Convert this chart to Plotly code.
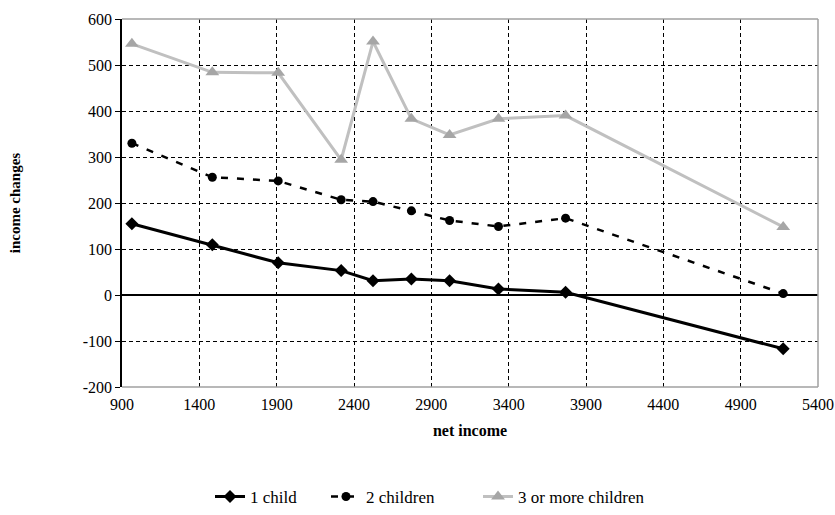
import plotly.graph_objects as go

net_income = [964, 1484, 1910, 2317, 2523, 2771, 3018, 3334, 3768, 5175]
one_child = [155, 109, 70, 53, 31, 35, 31, 13, 6, -117]
two_children = [330, 256, 248, 207, 203, 183, 162, 149, 167, 3]
three_plus = [546, 484, 483, 294, 551, 383, 348, 383, 390, 148]

x_ticks = [900, 1400, 1900, 2400, 2900, 3400, 3900, 4400, 4900, 5400]
y_ticks = [-200, -100, 0, 100, 200, 300, 400, 500, 600]
y_tick_text = ["-200", "-100", "0", "100", "200", "300", "400", "500", "600"]

FONT = "Liberation Serif"

fig = go.Figure()
fig.add_trace(go.Scatter(
    x=net_income, y=one_child, name="1 child", mode="lines+markers",
    line=dict(color="black", width=3), legend="legend",
    marker=dict(symbol="diamond", size=10, color="black")))
fig.add_trace(go.Scatter(
    x=net_income, y=two_children, name="2 children", mode="lines+markers",
    line=dict(color="black", width=2.5, dash="7px,9px"), legend="legend2",
    marker=dict(symbol="circle", size=9, color="black")))
fig.add_trace(go.Scatter(
    x=net_income, y=three_plus, name="3 or more children", mode="lines+markers",
    line=dict(color="#c0c0c0", width=3), legend="legend3",
    marker=dict(symbol="triangle-up", size=12, color="#a6a6a6")))

def leg(xpx):
    return dict(orientation="h", x=xpx / 835, xanchor="left", xref="container",
                y=0.035, yanchor="middle", yref="container",
                font=dict(family=FONT, size=17), bgcolor="rgba(0,0,0,0)")

fig.update_layout(
    width=835, height=515,
    margin=dict(l=122, r=17, t=19, b=128, autoexpand=False),
    plot_bgcolor="white", paper_bgcolor="white",
    font=dict(family=FONT, size=16, color="black"),
    showlegend=True,
    legend=leg(210), legend2=leg(326), legend3=leg(478),
    xaxis=dict(range=[900, 5400], tickvals=x_ticks, showgrid=True,
               gridcolor="black", griddash="4px,3px", gridwidth=1,
               zeroline=False, showline=False,
               ticks="inside", ticklen=4, tickcolor="black", ticklabelstandoff=6,
               title=dict(text="<b>net income</b>", font=dict(family=FONT, size=16), standoff=12),
               tickfont=dict(family=FONT, size=16)),
    yaxis=dict(range=[-200, 600], tickvals=y_ticks, ticktext=y_tick_text, showgrid=True,
               gridcolor="black", griddash="4px,3px", gridwidth=1,
               zeroline=True, zerolinecolor="black", zerolinewidth=1.5,
               showline=True, linecolor="black", linewidth=1.5,
               ticks="outside", ticklen=5, tickcolor="black",
               title=dict(text="<b>income changes</b>", font=dict(family=FONT, size=15), standoff=58),
               tickfont=dict(family=FONT, size=16)),
)
fig.add_shape(type="line", xref="paper", yref="paper", x0=0, x1=1, y0=1, y1=1,
              line=dict(color="#a0a0a0", width=1.5))
fig.add_shape(type="line", xref="paper", yref="paper", x0=1, x1=1, y0=0, y1=1,
              line=dict(color="#a0a0a0", width=1.5))
fig.add_shape(type="line", xref="paper", yref="paper", x0=0, x1=1, y0=0, y1=0,
              line=dict(color="#a0a0a0", width=1.5))

fig.write_html("out.html")
